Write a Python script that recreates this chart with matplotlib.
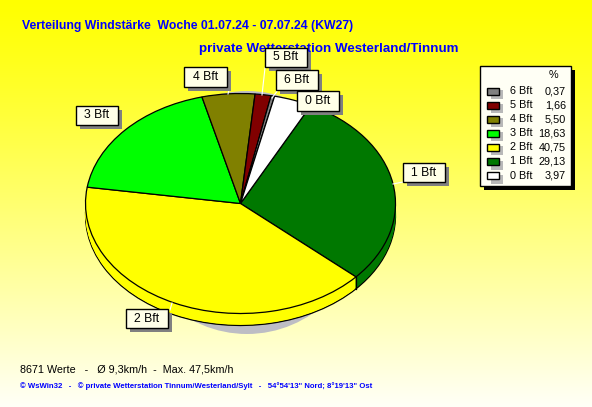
#!/usr/bin/env python3
"""Wind force distribution pie, WsWin32 style."""
import numpy as np
import matplotlib
matplotlib.use('Agg')
import matplotlib.pyplot as plt
from matplotlib.patches import Rectangle, Ellipse

W, H = 592, 407
categories = ['1 Bft', '2 Bft', '3 Bft', '4 Bft', '5 Bft', '6 Bft', '0 Bft']
shares = [29.13, 40.75, 18.63, 5.50, 1.66, 0.37, 3.97]
colours = ['#007800', '#ffff00', '#00ff00', '#808000', '#800000', '#808080', '#ffffff']
legend_order = ['6 Bft', '5 Bft', '4 Bft', '3 Bft', '2 Bft', '1 Bft', '0 Bft']
legend_vals = ['0,37', '1,66', '5,50', '18,63', '40,75', '29,13', '3,97']

plt.rcParams['font.family'] = ['Liberation Sans', 'DejaVu Sans']
fig = plt.figure(figsize=(W / 100, H / 100), dpi=100)

# everything except the pie is placed in pixel coords
bg = fig.add_axes([0, 0, 1, 1], zorder=0)
grad = np.linspace(0, 1, 256)[:, None]
rgb = np.dstack([np.ones_like(grad), np.ones_like(grad), grad ** 1.15 * 0.97])
bg.imshow(rgb, extent=(0, W, H, 0), aspect='auto', zorder=0)
bg.set_xlim(0, W); bg.set_ylim(H, 0); bg.axis('off')

CX, CY, RX, RY, DEPTH, START = 240.5, 203.5, 155, 110, 12, 63

# grey shadow only peeks out at the top and bottom of the pie
bg.add_patch(Ellipse((247, 212.5), 236, 243, fc='#bdbdc4', ec='none', zorder=1))


def draw_pie(dy, z, lw):
    a = fig.add_axes([(CX - RX) / W, 1 - (CY + dy + RY) / H, 2 * RX / W, 2 * RY / H], zorder=z)
    a.patch.set_alpha(0)
    a.pie(shares, colors=colours, startangle=START, counterclock=False, radius=1,
          wedgeprops=dict(edgecolor='black' if lw else 'none', linewidth=lw, clip_on=False))
    a.set_aspect('auto'); a.set_xlim(-1, 1); a.set_ylim(-1, 1); a.axis('off')


# side wall: bottom outline, then filled layers, then the top face
draw_pie(DEPTH, 2, 0.9)
for d in range(DEPTH - 1, 0, -1):
    draw_pie(d, 3, 0)
draw_pie(0, 4, 0.9)

over = fig.add_axes([0, 0, 1, 1], zorder=5)
over.set_xlim(0, W); over.set_ylim(H, 0); over.axis('off'); over.patch.set_alpha(0)

# wall edge where 1 Bft meets 2 Bft
ang = np.deg2rad(START - shares[0] * 3.6)
ex, ey = CX + RX * np.cos(ang), CY - RY * np.sin(ang)
over.plot([ex, ex], [ey, ey + DEPTH], color='black', lw=0.9, zorder=5)

over.text(22, 26, 'Verteilung Windstärke  Woche 01.07.24 - 07.07.24 (KW27)', color='#0000ff',
          fontsize=8.8, fontweight='bold', va='center')
over.text(199, 49, 'private Wetterstation Westerland/Tinnum', color='#0000ff',
          fontsize=9.65, fontweight='bold', va='center')


def label(x0, y0, x1, y1, s, lead=None):
    if lead:
        over.plot([lead[0], lead[2]], [lead[1], lead[3]], color='white', lw=0.8, zorder=5.5)
    over.add_patch(Rectangle((x0 + 4, y0 + 4), x1 - x0, y1 - y0, fc='#808080', ec='none', zorder=6))
    over.add_patch(Rectangle((x0, y0), x1 - x0, y1 - y0, fc='#ffffe8', ec='black', lw=1, zorder=7))
    over.text((x0 + x1) / 2, (y0 + y1) / 2, s, fontsize=8.8, ha='center', va='center', zorder=8)


label(76, 106, 118, 125, '3 Bft')
label(184, 67, 227, 87, '4 Bft', (230, 87, 228, 94))
label(265, 48, 307, 67, '5 Bft', (265, 68, 262, 95))
label(276, 70, 318, 90, '6 Bft', (278, 90, 272, 98))
label(297, 91, 339, 111, '0 Bft')
label(403, 163, 445, 182, '1 Bft', (403, 182, 393, 184))
label(126, 309, 168, 328, '2 Bft', (170, 310, 172, 303))

# legend box
over.add_patch(Rectangle((484, 70), 91, 120, fc='black', ec='none', zorder=6))
over.add_patch(Rectangle((480, 66), 91, 120, fc='#fffff5', ec='black', lw=1, zorder=7))
over.text(553, 75, '%', fontsize=7.8, ha='center', va='center', zorder=8)
for i, (name, val) in enumerate(zip(legend_order, legend_vals)):
    y = 91 + i * 14.1
    col = colours[categories.index(name)]
    over.add_patch(Rectangle((491, y - 1), 12, 9, fc='#b8b8b8', ec='none', zorder=7.5))
    over.add_patch(Rectangle((487, y - 3.5), 12, 7, fc=col, ec='black', lw=1, zorder=8))
    over.text(510, y, name, fontsize=7.8, va='center', zorder=8)
    over.text(566, y, val, fontsize=7.8, va='center', ha='right', zorder=8)

over.text(20, 369, '8671 Werte   -   Ø 9,3km/h  -  Max. 47,5km/h', fontsize=7.75, va='center')
over.text(20, 386, '© WsWin32   -   © private Wetterstation Tinnum/Westerland/Sylt   -   '
          '54°54\'13" Nord; 8°19\'13" Ost', color='#0000ff', fontsize=5.55, fontweight='bold', va='center')

fig.savefig('out.png', dpi=100)
